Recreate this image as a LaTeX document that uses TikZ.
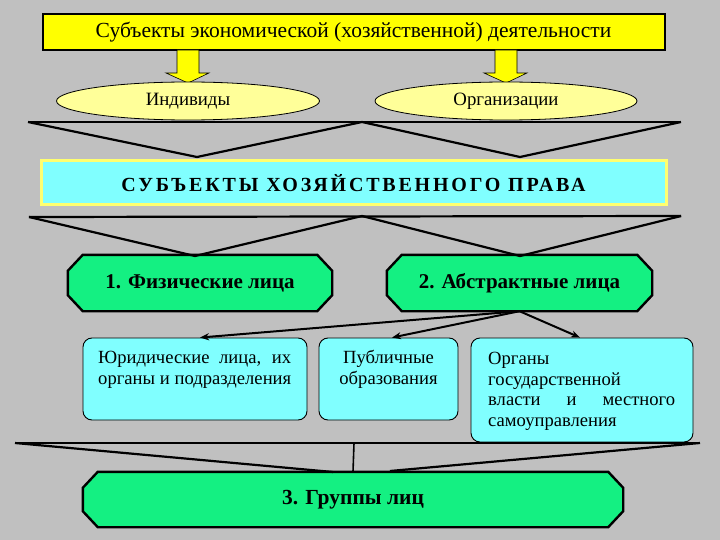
\documentclass[tikz,border=0pt]{standalone}
\usepackage{fontspec}
\setmainfont{Liberation Serif}
\usetikzlibrary{shapes.geometric,arrows.meta,calc}
\definecolor{bggray}{HTML}{C0C0C0}
\definecolor{ylw}{HTML}{FFFF00}
\definecolor{lylw}{HTML}{FFFF99}
\definecolor{cyn}{HTML}{80FFFF}
\definecolor{grn}{HTML}{14F082}
\definecolor{tborder}{HTML}{FFFF70}
\pgfdeclarelayer{bg}
\pgfdeclarelayer{back}
\pgfsetlayers{bg,back,main}
\newcommand\octdraw[1]{%
  \begin{pgfonlayer}{back}
  \draw[octline] ($(#1.north west)+(15,0)$) -- ($(#1.north east)+(-15,0)$)
    -- ($(#1.north east)+(0,16)$) -- ($(#1.south east)+(0,-16)$)
    -- ($(#1.south east)+(-15,0)$) -- ($(#1.south west)+(15,0)$)
    -- ($(#1.south west)+(0,-16)$) -- ($(#1.north west)+(0,16)$) -- cycle;
  \end{pgfonlayer}}
\tikzset{
  topbox/.style={draw=black, line width=2pt, fill=ylw, minimum width=622pt, minimum height=36pt, inner sep=0pt, font=\fontsize{21.5}{23}\selectfont},
  oval/.style={ellipse, draw=black, line width=0.8pt, fill=lylw, inner sep=0pt, minimum height=38pt, font=\fontsize{18.8}{20}\selectfont},
  titlebox/.style={draw=tborder, line width=3pt, fill=cyn, minimum width=625pt, minimum height=44pt, inner sep=0pt, font=\fontsize{20}{22}\selectfont\bfseries\addfontfeature{LetterSpace=14}},
  greenbox/.style={rectangle, draw=none, fill=none, inner sep=0pt, font=\fontsize{21}{23}\selectfont\bfseries},
  octline/.style={draw=black, line width=2.4pt, fill=grn, line join=miter},
  cyanbox/.style={rounded corners=9pt, draw=black, line width=0.9pt, fill=cyn, inner sep=0pt},
  boxtext/.style={inner sep=0pt, anchor=north west, align=left, font=\fontsize{18.6}{20.7}\selectfont},
  bracket/.style={line width=2.2pt, line join=miter},
  blockarrow/.style={draw=black, line width=0.6pt, fill=ylw},
  conn/.style={line width=2pt, -{Stealth[length=9pt,width=7pt]}}
}
\begin{document}
\begin{tikzpicture}[x=1pt,y=-1pt]
\begin{pgfonlayer}{bg}
\fill[bggray] (0,0) rectangle (720,540);
\end{pgfonlayer}
\useasboundingbox (0,0) rectangle (720,540);
% top box
\node[topbox] (top) at (353.5,32) {Субъекты экономической (хозяйственной) деятельности};
% block arrows
\draw[blockarrow] (177,50) -- (199,50) -- (199,73) -- (209,73) -- (188,83) -- (166,73) -- (177,73) -- cycle;
\draw[blockarrow] (495,50) -- (517,50) -- (517,73) -- (527,73) -- (506,83) -- (484,73) -- (495,73) -- cycle;
% ovals
\node[oval, minimum width=263pt] (ind) at (188,101) {Индивиды};
\node[oval, minimum width=262pt] (org) at (506,101) {Организации};
% bracket 1
\coordinate (b1l) at (28,122);
\coordinate (b1r) at (681,122);
\coordinate (b1a) at (197,157);
\coordinate (b1m) at (362,122);
\coordinate (b1b) at (520,157);
\draw[bracket] (b1l) -- (b1r);
\draw[bracket] (b1l) -- (b1a) -- (b1m) -- (b1b) -- (b1r);
% title box
\node[titlebox] (title) at (353.5,183) {СУБЪЕКТЫ ХОЗЯЙСТВЕННОГО ПРАВА};
% bracket 2
\coordinate (b2l) at (29,217);
\coordinate (b2r) at (681,216);
\coordinate (b2a) at (195,256);
\coordinate (b2m) at (362,216);
\coordinate (b2b) at (520,256);
\draw[bracket] (b2l) -- (b2r);
\draw[bracket] (b2l) -- (b2a) -- (b2m) -- (b2b) -- (b2r);
% green boxes
\node[greenbox, minimum width=264pt, minimum height=56pt] (g1) at (200,283) {1. Физические лица};
\octdraw{g1}
\node[greenbox, minimum width=265pt, minimum height=56pt] (g2) at (519.5,283) {2. Абстрактные лица};
\octdraw{g2}
% cyan boxes
\node[cyanbox, minimum width=224pt, minimum height=82pt] (c1) at (195,379) {};
\node[cyanbox, minimum width=139pt, minimum height=82pt] (c2) at (388.5,379) {};
\node[cyanbox, minimum width=222pt, minimum height=104pt] (c3) at (582,390) {};
\node[boxtext] (t1) at (98,351) {\makebox[193pt][s]{Юридические лица, их}\\\makebox[193pt][s]{органы и подразделения}};
\node[boxtext, anchor=north, align=center] (t2) at (388.5,350) {Публичные\\образования};
\node[boxtext] (t3) at (488,352) {Органы\\государственной\\\makebox[187pt][s]{власти и местного}\\самоуправления};
% connectors
\draw[conn] (g2.south) -- ($(c1.north)+(5,0)$);
\draw[conn] (g2.south) -- ($(c2.north)+(3.5,0)$);
\draw[conn] (g2.south) -- ($(c3.north)+(-2,0)$);
% bracket 3
\coordinate (b3l) at (15,443);
\coordinate (b3r) at (700,443);
\coordinate (b3m) at (354,443);
\coordinate (b3a) at (333,472);
\coordinate (b3b) at (390,471);
\draw[bracket] (b3l) -- (b3r);
\draw[bracket] (b3l) -- (b3a);
\draw[bracket] (b3r) -- (b3b);
% bottom green box
\node[greenbox, minimum width=540pt, minimum height=55pt, font=\fontsize{21.5}{23}\selectfont\bfseries] (g3) at (353,499.5) {3. Группы лиц};
\octdraw{g3}
\draw[line width=1.6pt] (b3m) -- (g3.north);
\end{tikzpicture}
\end{document}
